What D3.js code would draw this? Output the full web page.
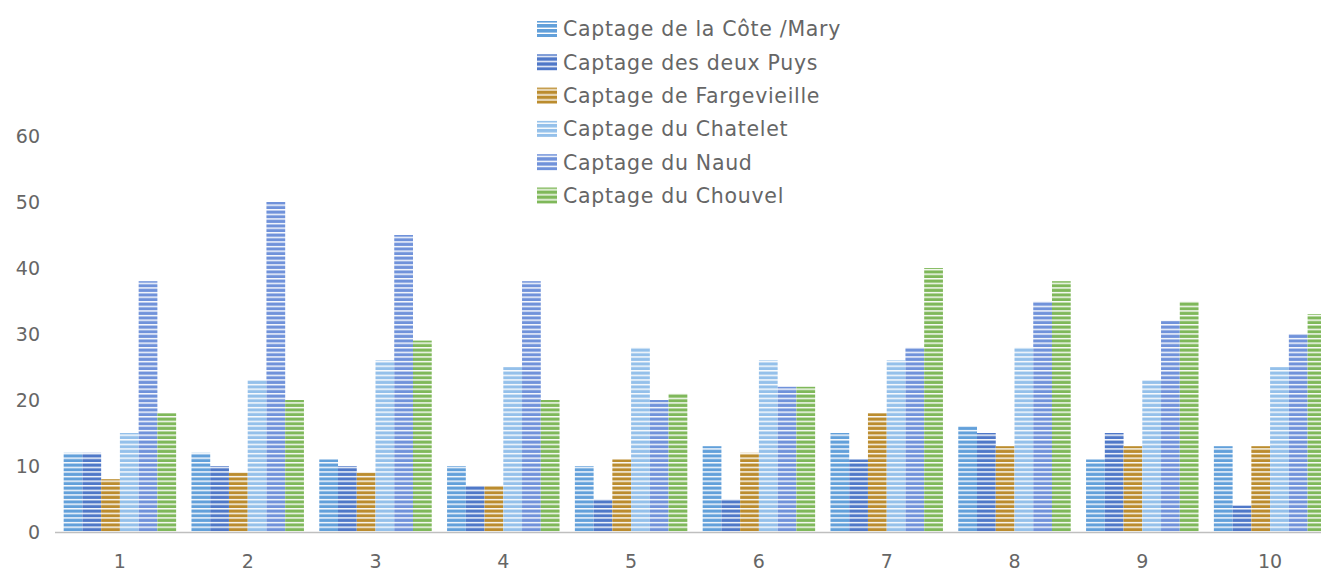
<!DOCTYPE html>
<html>
<head>
<meta charset="utf-8">
<script src="https://cdn.jsdelivr.net/npm/d3@7"></script>
<style>
  html, body { margin: 0; padding: 0; background: #ffffff; }
  svg { display: block; }
</style>
</head>
<body>
<svg id="chart" width="1321" height="572"></svg>
<script>
const categories = ["1", "2", "3", "4", "5", "6", "7", "8", "9", "10"];
const seriesNames = [
  "Captage de la Côte /Mary",
  "Captage des deux Puys",
  "Captage de Fargevieille",
  "Captage du Chatelet",
  "Captage du Naud",
  "Captage du Chouvel"
];
const coteMary     = [12, 12, 11, 10, 10, 13, 15, 16, 11, 13];
const deuxPuys     = [12, 10, 10, 7, 5, 5, 11, 15, 15, 4];
const fargevieille = [8, 9, 9, 7, 11, 12, 18, 13, 13, 13];
const chatelet     = [15, 23, 26, 25, 28, 26, 26, 28, 23, 25];
const naud         = [38, 50, 45, 38, 20, 22, 28, 35, 32, 30];
const chouvel      = [18, 20, 29, 20, 21, 22, 40, 38, 35, 33];
const yTicks = [0, 10, 20, 30, 40, 50, 60];
const seriesColors = ["#62a0da", "#4f78c8", "#bb8c2e", "#94c0ea", "#7092da", "#7fb85a"];

const seriesValues = [coteMary, deuxPuys, fargevieille, chatelet, naud, chouvel];

const svg = d3.select("#chart");
const baseY = 532;
const FONT = "DejaVu Sans, sans-serif";
const TEXT = "#666666";

const x = d3.scaleBand().domain(categories).range([56, 1334]).paddingInner(0.12).paddingOuter(0.06);
const xs = d3.scaleBand().domain(d3.range(seriesNames.length)).range([0, x.bandwidth()]);
const y = d3.scaleLinear().domain([0, 60]).range([baseY, 136]);

// stripe patterns
const defs = svg.append("defs");
seriesColors.forEach((c, i) => {
  const p = defs.append("pattern")
    .attr("id", "stripe" + i)
    .attr("patternUnits", "userSpaceOnUse")
    .attr("width", 10).attr("height", 4.6)
    .attr("patternTransform", `translate(0,${baseY})`);
  p.append("rect").attr("width", 10).attr("height", 4.6).attr("fill", "#ffffff");
  p.append("rect").attr("y", 0.5).attr("width", 10).attr("height", 3.2).attr("fill", c);
  const pl = defs.append("pattern")
    .attr("id", "lstripe" + i)
    .attr("patternUnits", "userSpaceOnUse")
    .attr("width", 10).attr("height", 5);
  pl.append("rect").attr("width", 10).attr("height", 5).attr("fill", "#ffffff");
  pl.append("rect").attr("y", 0).attr("width", 10).attr("height", 3.6).attr("fill", c);
});

// y tick labels
svg.append("g").selectAll("text").data(yTicks).join("text")
  .attr("x", 40).attr("y", d => y(d)).attr("dy", "0.36em")
  .attr("text-anchor", "end")
  .attr("font-family", FONT).attr("font-size", 19)
  .attr("fill", TEXT).text(d => d);

// bars
const groups = svg.append("g").selectAll("g").data(categories).join("g")
  .attr("transform", d => `translate(${x(d)},0)`);
groups.selectAll("rect").data((d, ci) => seriesValues.map((vals, si) => ({si, v: vals[ci]})))
  .join("rect")
  .attr("x", d => xs(d.si))
  .attr("width", xs.bandwidth())
  .attr("y", d => y(d.v))
  .attr("height", d => baseY - y(d.v))
  .attr("fill", d => `url(#stripe${d.si})`);

// x axis line
svg.append("line").attr("x1", 55).attr("x2", 1321).attr("y1", baseY + 0.5).attr("y2", baseY + 0.5)
  .attr("stroke", "#bfbfbf").attr("stroke-width", 1.5);

// x labels
svg.append("g").selectAll("text").data(categories).join("text")
  .attr("x", d => x(d) + x.bandwidth() / 2).attr("y", 568)
  .attr("text-anchor", "middle")
  .attr("font-family", FONT).attr("font-size", 19)
  .attr("fill", TEXT).text(d => d);

// legend
const legend = svg.append("g").selectAll("g").data(seriesNames).join("g")
  .attr("transform", (d, i) => `translate(537,${29 + i * 33.3})`);
legend.append("rect").attr("x", 0).attr("y", -8).attr("width", 20).attr("height", 16)
  .attr("fill", (d, i) => `url(#lstripe${i})`);
legend.append("text").attr("x", 26).attr("y", 0).attr("dy", "0.36em")
  .attr("font-family", FONT).attr("font-size", 20.5).attr("letter-spacing", 0.7)
  .attr("fill", TEXT).text(d => d);
</script>
</body>
</html>
